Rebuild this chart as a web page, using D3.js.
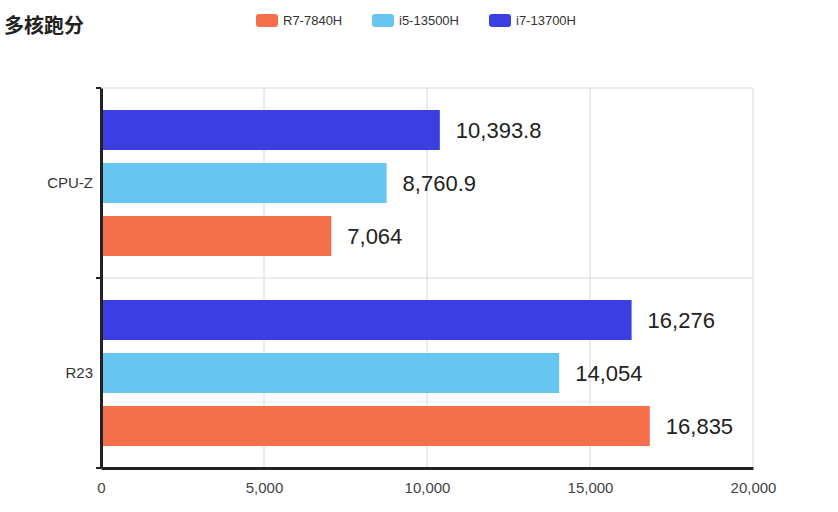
<!DOCTYPE html>
<html><head><meta charset="utf-8">
<script src="https://cdn.jsdelivr.net/npm/d3@7"></script>
<style>body{margin:0;background:#fff;font-family:"Liberation Sans",Arial,sans-serif}</style>
</head><body>
<svg id="c" width="838" height="512"></svg>
<script>
const categories = ["CPU-Z", "R23"];
const seriesNames = ["R7-7840H", "i5-13500H", "i7-13700H"];
const seriesColors = ["#f5704a", "#67c5f2", "#3b3fe2"];
const r7Values = [7064, 16835];
const i5Values = [8760.9, 14054];
const i7Values = [10393.8, 16276];
const valueLabels = [["7,064","16,835"],["8,760.9","14,054"],["10,393.8","16,276"]];
const xTicks = [0, 5000, 10000, 15000, 20000];
const series = [r7Values, i5Values, i7Values];

const svg = d3.select("#c");
const x = d3.scaleLinear().domain([0, 20000]).range([101, 753]);
const y = d3.scaleBand().domain(categories).range([88, 468]);
const inner = d3.scaleBand().domain([2, 1, 0]).range([0, y.bandwidth()]).paddingInner(0.245).paddingOuter(0.415);

// grid
svg.append("g").selectAll("line").data(xTicks.slice(1)).join("line")
  .attr("x1", d => x(d)).attr("x2", d => x(d)).attr("y1", 88).attr("y2", 468)
  .attr("stroke", "#d8d8d8");
svg.append("g").selectAll("line").data([88, 278]).join("line")
  .attr("x1", 101).attr("x2", 753).attr("y1", d => d).attr("y2", d => d)
  .attr("stroke", "#d8d8d8");

// bars
series.forEach((vals, si) => {
  const g = svg.append("g");
  g.selectAll("rect").data(categories).join("rect")
    .attr("x", x(0)).attr("y", (c) => y(c) + inner(si))
    .attr("width", (c, i) => x(vals[i]) - x(0)).attr("height", inner.bandwidth())
    .attr("fill", seriesColors[si]);
  g.selectAll("text").data(categories).join("text")
    .attr("x", (c, i) => x(vals[i]) + 16).attr("y", c => y(c) + inner(si) + inner.bandwidth() / 2 + 8)
    .attr("font-size", 22).attr("fill", "#222")
    .text((c, i) => valueLabels[si][i]);
});

// axes
const yAxis = d3.axisLeft(y).tickSize(0).tickPadding(8);
const ya = svg.append("g").attr("transform", "translate(101,0)").call(yAxis);
ya.select(".domain").attr("stroke", "#222").attr("stroke-width", 3);
ya.selectAll("text").attr("font-size", 15).attr("fill", "#333").attr("font-family", "Liberation Sans, Arial");
svg.append("g").selectAll("line").data([88, 278, 468]).join("line")
  .attr("x1", 96).attr("x2", 101).attr("y1", d => d).attr("y2", d => d).attr("stroke", "#222").attr("stroke-width", 2);

const xAxis = d3.axisBottom(x).tickValues(xTicks).tickFormat(d3.format(",")).tickSize(0).tickPadding(14);
const xa = svg.append("g").attr("transform", "translate(0,468)").call(xAxis);
xa.select(".domain").attr("stroke", "#222").attr("stroke-width", 3);
xa.selectAll("text").attr("font-size", 15).attr("fill", "#444").attr("font-family", "Liberation Sans, Arial");

// title
svg.append("text").attr("x", 4).attr("y", 33).attr("font-size", 20).attr("font-weight", "bold")
  .attr("font-family", "Noto Sans CJK SC").attr("fill", "#222").text("多核跑分");

// legend
const lx = [256, 372, 489];
seriesNames.forEach((n, i) => {
  svg.append("rect").attr("x", lx[i]).attr("y", 14).attr("width", 22).attr("height", 13).attr("rx", 3)
    .attr("fill", seriesColors[i]);
  svg.append("text").attr("x", lx[i] + 27).attr("y", 25).attr("font-size", 13).attr("fill", "#333").text(n);
});
</script>
</body></html>
